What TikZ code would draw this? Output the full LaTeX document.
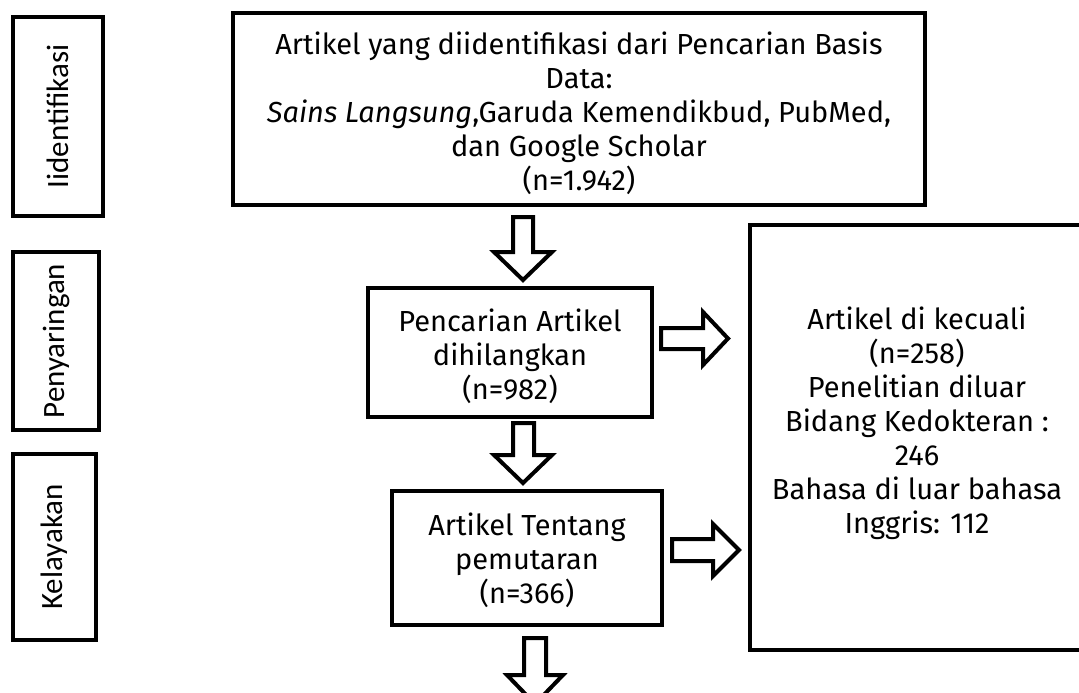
\documentclass[tikz,border=0pt]{standalone}
\usepackage{fontspec}
\setmainfont{Fira Sans}
\newfontfamily\labelfont{Carlito}
\begin{document}
\begin{tikzpicture}[x=1pt,y=-1pt]
\tikzset{
  frame/.style={draw=black, line width=4.8pt, inner sep=0pt},
  txt/.style={inner sep=0pt, align=center, font=\fontsize{29}{34}\selectfont},
  side/.style={inner sep=0pt, rotate=90, font=\labelfont\fontsize{31}{37}\selectfont},
  barrow/.style={draw=black, line width=4pt, fill=white, line join=miter, miter limit=10},
}
\useasboundingbox (0,0) rectangle (1079,693);

% left phase boxes
\node[frame, minimum width=90, minimum height=199] (b1) at (58,116.5) {};
\node[side] (l1) at (b1.center) {Iidentifikasi};
\node[frame, minimum width=86, minimum height=178] (b2) at (56,341) {};
\node[side] (l2) at (b2.center) {Penyaringan};
\node[frame, minimum width=83, minimum height=186] (b3) at (54.5,547) {};
\node[side] (l3) at (b3.center) {Kelayakan};

% top box
\node[frame, minimum width=692, minimum height=192] (top) at (579,109) {};
\node[txt] (ttop) at (579,113) {Artikel yang diidentifikasi dari Pencarian Basis\\
Data:\\
\textit{Sains Langsung},Garuda Kemendikbud, PubMed,\\
dan Google Scholar\\
(n=1.942)};

% middle boxes
\node[frame, minimum width=284, minimum height=129] (m1) at (510,352.5) {};
\node[txt] (tm1) at (510,356) {Pencarian Artikel\\dihilangkan\\(n=982)};
\node[frame, minimum width=270, minimum height=134] (m2) at (527,558) {};
\node[txt] (tm2) at (527,560) {Artikel Tentang\\pemutaran\\(n=366)};

% right box (extends beyond the page)
\node[frame, minimum width=370, minimum height=425] (r) at (935,437.5) {};
\node[txt] (tr) at (917,423) {Artikel di kecuali\\(n=258)\\Penelitian diluar\\Bidang Kedokteran :\\246\\Bahasa di luar bahasa\\Inggris: 112};

% block arrows down
\draw[barrow] (513,217) -- (533,217) -- (533,252) -- (552,252) -- (523,280) -- (494,252) -- (513,252) -- cycle;
\draw[barrow] (513,423) -- (534,423) -- (534,455) -- (552,455) -- (523,483) -- (494,455) -- (513,455) -- cycle;
\draw[barrow] (524,638) -- (546,638) -- (546,675) -- (563,675) -- (535,704) -- (507,675) -- (524,675) -- cycle;

% block arrows right
\draw[barrow] (661,328) -- (703,328) -- (703,312) -- (728,338.5) -- (703,365) -- (703,349) -- (661,349) -- cycle;
\draw[barrow] (672,539) -- (713,539) -- (713,524) -- (739,550) -- (713,576) -- (713,561) -- (672,561) -- cycle;
\end{tikzpicture}
\end{document}
